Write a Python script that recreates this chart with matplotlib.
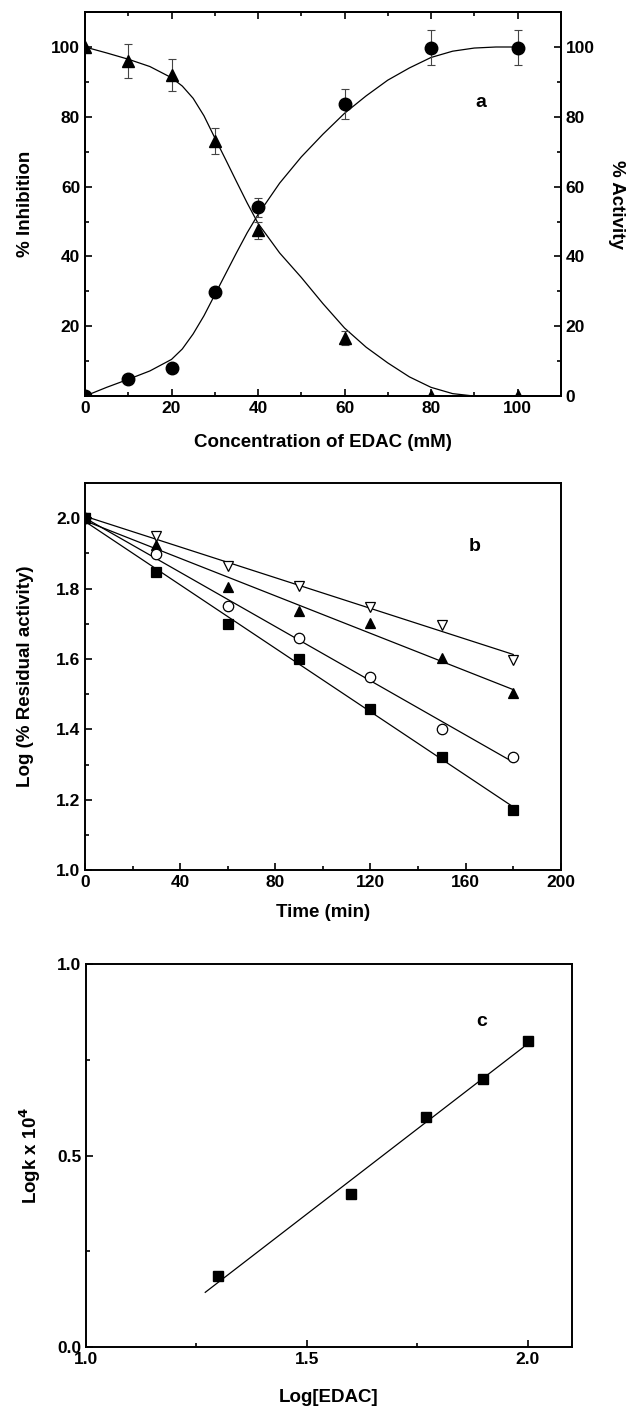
import numpy as np
import matplotlib
matplotlib.use("Agg")
import matplotlib.pyplot as plt
from matplotlib.ticker import MultipleLocator, NullFormatter

plt.rcParams['font.family'] = ['Liberation Sans Narrow', 'Liberation Sans', 'DejaVu Sans']
plt.rcParams['font.weight'] = 'bold'
plt.rcParams['mathtext.default'] = 'bf'

# ---- panel a: inhibition / activity vs EDAC concentration
conc = [0, 10, 20, 30, 40, 60, 80, 100]
activity = [100, 96, 92, 73, 47.5, 16.5, 0, 0]
activity_err = [0, 5, 4.6, 3.7, 2.5, 2, 0, 0]
inhibition = [0, 4.8, 8.1, 29.7, 54.1, 83.6, 99.8, 99.8]
inhibition_err = [0, 0, 0, 0, 2.7, 4.3, 5, 5]

# fitted curves
fit_x = [0, 5, 10, 15, 20, 22.5, 25, 27.5, 30, 32.5, 35, 37.5, 40, 45, 50, 55,
         60, 65, 70, 75, 80, 85, 90, 92]
fit_activity = [100, 98.3, 96.5, 94.4, 91.2, 88.8, 85.3, 80.3, 74, 67.8, 61.5,
                55.3, 49.5, 41, 34, 26.5, 19.5, 14, 9.5, 5.5, 2.5, 0.7, 0, 0]
fit_inhib_x = [0, 5, 10, 15, 20, 22.5, 25, 27.5, 30, 32.5, 35, 37.5, 40, 45, 50,
               55, 60, 65, 70, 75, 80, 85, 90, 95, 100]
fit_inhibition = [0, 2.5, 4.8, 7.2, 10.5, 13.5, 17.8, 23, 29, 35, 41, 46.8, 52,
                  61, 68.5, 75, 81, 86, 90.5, 94, 97, 98.8, 99.7, 100, 100]

# ---- panel b: log residual activity vs time
time_min = [0, 30, 60, 90, 120, 150, 180]
res_open_tri = [2.0, 1.95, 1.865, 1.808, 1.749, 1.696, 1.597]
res_fill_tri = [2.0, 1.924, 1.804, 1.735, 1.703, 1.602, 1.502]
res_open_circ = [2.0, 1.898, 1.75, 1.66, 1.548, 1.40, 1.32]
res_fill_sq = [2.0, 1.848, 1.70, 1.60, 1.459, 1.32, 1.17]

# ---- panel c: log k vs log [EDAC]
log_edac = [1.30, 1.60, 1.77, 1.90, 2.00]
log_k = [0.186, 0.40, 0.60, 0.70, 0.80]

fig = plt.figure(figsize=(6.26, 14.06), dpi=100)

label_font = dict(fontsize=13.5, fontweight='bold')


def style(ax, top=False, right=False):
    for s in ax.spines.values():
        s.set_linewidth(1.4)
    ax.tick_params(which='both', direction='in', top=top, right=right, width=1.2,
                   labelsize=12.5)
    ax.tick_params(which='major', length=5)
    ax.tick_params(which='minor', length=3)
    for lab in ax.get_xticklabels() + ax.get_yticklabels():
        lab.set_fontweight('bold')


# panel a
ax1 = fig.add_axes([0.1358, 0.7183, 0.760, 0.2731])
ax1.plot(fit_x, fit_activity, color='black', lw=0.9)
ax1.plot(fit_inhib_x, fit_inhibition, color='black', lw=0.9)
c = np.array(conc)
ae = np.array(activity_err)
ie = np.array(inhibition_err)
m = ae > 0
ax1.errorbar(c[m], np.array(activity)[m], yerr=ae[m], fmt='none', ecolor='#444444',
             elinewidth=0.8, capsize=3, capthick=0.8)
m = ie > 0
ax1.errorbar(c[m], np.array(inhibition)[m], yerr=ie[m], fmt='none', ecolor='#444444',
             elinewidth=0.8, capsize=3, capthick=0.8)
ax1.plot(conc, activity, linestyle='none', marker='^', ms=9, color='black')
ax1.plot(conc, inhibition, linestyle='none', marker='o', ms=9, color='black')
ax1.set_xlim(0, 110)
ax1.set_ylim(0, 110)
ax1.set_xticks([0, 20, 40, 60, 80, 100])
ax1.xaxis.set_minor_locator(MultipleLocator(10))
ax1.set_yticks([20, 40, 60, 80, 100])
ax1.yaxis.set_minor_locator(MultipleLocator(10))
style(ax1, top=True)
ax1.set_xlabel('Concentration of EDAC (mM)', labelpad=13, **label_font)
ax1.set_ylabel('% Inhibition', labelpad=12, **label_font)
ax1.text(91.4, 84, 'a', fontsize=14, fontweight='bold', ha='center', va='center')

ax1r = ax1.twinx()
ax1r.set_ylim(0, 110)
ax1r.set_yticks([0, 20, 40, 60, 80, 100])
ax1r.yaxis.set_minor_locator(MultipleLocator(10))
style(ax1r)
ax1r.tick_params(which='both', direction='in', right=True)
ax1r.set_ylabel('% Activity', rotation=270, labelpad=22, **label_font)

# panel b
ax2 = fig.add_axes([0.1358, 0.3812, 0.760, 0.2752])
series_b = [(res_open_tri, 'v', 'white'), (res_fill_tri, '^', 'black'),
            (res_open_circ, 'o', 'white'), (res_fill_sq, 's', 'black')]
t = np.array(time_min)
for vals, mk, face in series_b:
    k, b0 = np.polyfit(t, vals, 1)
    ax2.plot([0, 180], [b0, b0 + k * 180], color='black', lw=0.9)
    ax2.plot(time_min, vals, linestyle='none', marker=mk, ms=7.5,
             markerfacecolor=face, markeredgecolor='black', markeredgewidth=0.9)
ax2.set_xlim(0, 200)
ax2.set_ylim(1.0, 2.1)
ax2.set_xticks([0, 40, 80, 120, 160, 200])
ax2.xaxis.set_minor_locator(MultipleLocator(20))
ax2.set_yticks([1.0, 1.2, 1.4, 1.6, 1.8, 2.0])
ax2.yaxis.set_minor_locator(MultipleLocator(0.1))
ax2.set_yticklabels(['1.0', '1.2', '1.4', '1.6', '1.8', '2.0'])
style(ax2)
ax2.set_xlabel('Time (min)', labelpad=10, **label_font)
ax2.set_ylabel('Log (% Residual activity)', labelpad=16, **label_font)
ax2.text(164, 1.92, 'b', fontsize=14, fontweight='bold', ha='center', va='center')

# panel c
ax3 = fig.add_axes([0.1374, 0.04196, 0.776, 0.2724])
k, b0 = np.polyfit(log_edac, log_k, 1)
ax3.plot([1.27, 1.99], [b0 + k * 1.27, b0 + k * 1.99], color='black', lw=0.9)
ax3.plot(log_edac, log_k, linestyle='none', marker='s', ms=7.5, color='black')
ax3.set_xlim(1.0, 2.1)
ax3.set_ylim(0.0, 1.0)
ax3.set_xticks([1.0, 1.5, 2.0])
ax3.set_xticklabels(['1.0', '1.5', '2.0'])
ax3.xaxis.set_minor_locator(MultipleLocator(0.25))
ax3.set_yticks([0.0, 0.5, 1.0])
ax3.set_yticklabels(['0.0', '0.5', '1.0'])
ax3.yaxis.set_minor_locator(MultipleLocator(0.25))
ax3.xaxis.set_minor_formatter(NullFormatter())
ax3.yaxis.set_minor_formatter(NullFormatter())
style(ax3)
ax3.set_xlabel('Log[EDAC]', labelpad=16, **label_font)
ax3.set_ylabel(r'Logk x 10$^{4}$', labelpad=10, **label_font)
ax3.text(1.897, 0.85, 'c', fontsize=14, fontweight='bold', ha='center', va='center')

fig.savefig('out.png', dpi=100)
